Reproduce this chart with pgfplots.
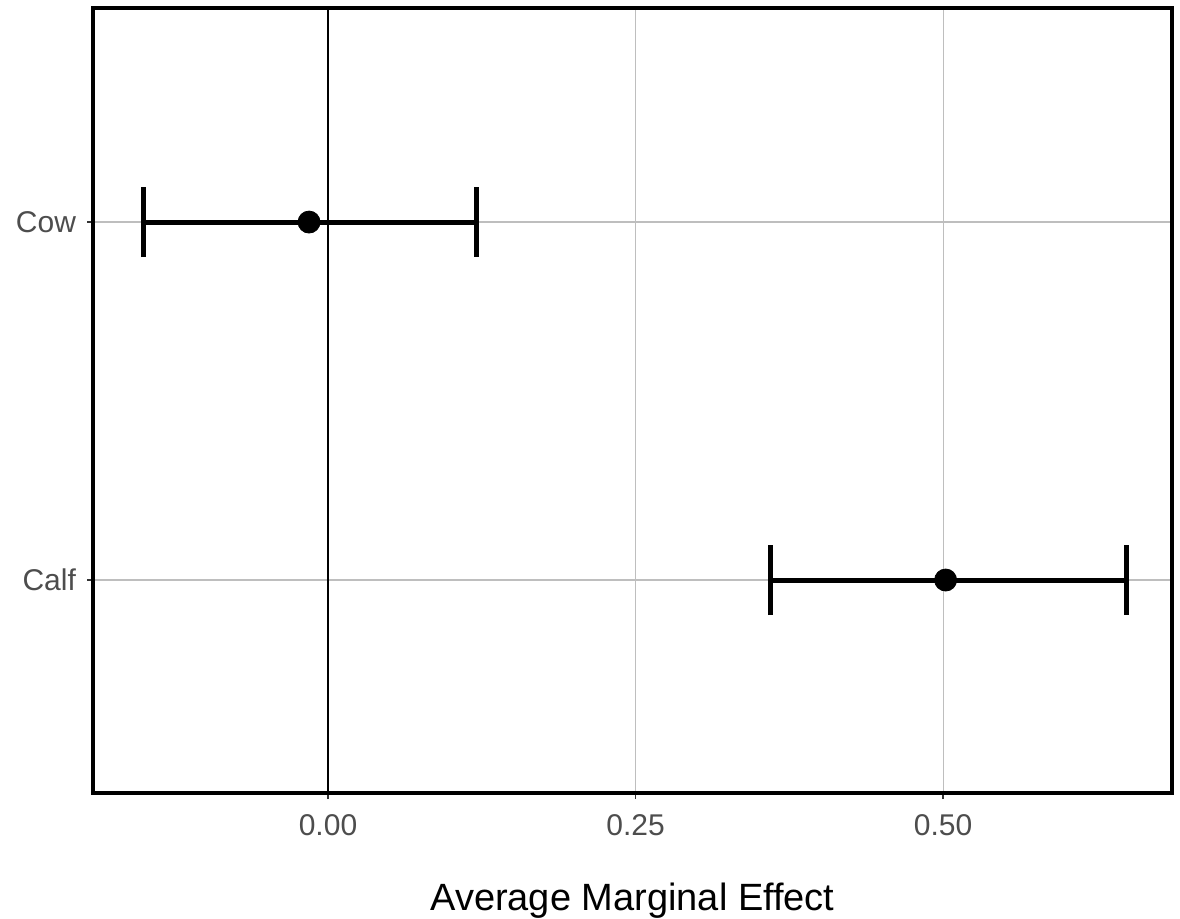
\documentclass[border=0pt]{standalone}
\usepackage{fontspec}
\setmainfont{Liberation Sans}
\usepackage{pgfplots}
\pgfplotsset{compat=1.18}
\usetikzlibrary{calc}
\definecolor{ticklab}{HTML}{4D4D4D}
\definecolor{gridc}{HTML}{BEBEBE}

\begin{document}
\begin{tikzpicture}
\begin{axis}[
    name=ax,
    scale only axis,
    width=539.5pt, height=392.5pt,
    xmin=-0.191, xmax=0.686,
    ymin=0.405, ymax=2.598,
    xtick={0,0.25,0.5},
    xticklabels={0.00,0.25,0.50},
    ytick={1,2},
    yticklabels={Calf,Cow},
    xtick pos=bottom, ytick pos=left,
    tick align=outside,
    major tick length=3pt,
    tick style={black!80, line width=0.8pt},
    grid=major,
    major grid style={gridc, line width=0.6pt},
    axis line style={black, line width=2.2pt},
    ticklabel style={font=\fontsize{15}{18}\selectfont, text=ticklab},
    xticklabel style={yshift=-4pt},
    yticklabel style={xshift=-2pt},
    xlabel={Average Marginal Effect},
    xlabel style={font=\fontsize{19}{22}\selectfont, at={(axis description cs:0.5,0)}, anchor=base, yshift=-58.5pt},
]
    % zero line
    \addplot[black, line width=0.9pt] coordinates {(0,0.405) (0,2.598)};

    % estimates with 95% intervals
    \addplot[black, only marks, mark=*, mark size=5.5pt,
        error bars/.cd, x dir=both, x explicit,
        error bar style={line width=2.5pt},
        error mark options={rotate=90, mark size=17.5pt, line width=2.5pt}]
    coordinates {
        (-0.0154,2) -= (0.1346,0) += (0.1364,0)
        (0.502,1)   -= (0.142,0)  += (0.147,0)
    };
\end{axis}
\pgfresetboundingbox
\path ($(ax.south west)+(-46.5pt,-62.5pt)$) rectangle ($(ax.north east)+(4pt,4pt)$);
\end{tikzpicture}
\end{document}
